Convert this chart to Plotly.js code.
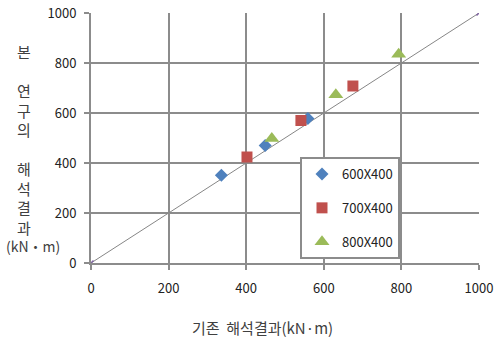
<!DOCTYPE html>
<html>
<head>
<meta charset="utf-8">
<script src="https://cdn.plot.ly/plotly-3.0.1.min.js"></script>
<style>
html,body{margin:0;padding:0;background:#fff;}
#chart{width:495px;height:338px;}
</style>
</head>
<body>
<div id="chart"></div>
<script>
// ---- data ----
const seriesNames = ["600X400", "700X400", "800X400"];
const x600 = [336, 449, 559];
const y600 = [351, 470, 578];
const x700 = [402, 541, 675];
const y700 = [424, 570, 708];
const x800 = [466, 631, 793];
const y800 = [498, 673, 835];
const refX = [0, 1000];
const refY = [0, 1000];
const tickVals = [0, 200, 400, 600, 800, 1000];
const tickText = ["0", "200", "400", "600", "800", "1000"];
const xTitle = "기존  해석결과(kN·m)";
const yTitleLines = ["본", " ", "연", "구", "의", " ", "해", "석", "결", "과"];
const yTitleUnit = "(kN・m)";

// ---- layout helpers ----
const L = 91, R = 479, T = 13, B = 263, W = 495, H = 338;
const px = v => (v - L) / (R - L);
const py = v => (B - v) / (B - T);

const gridCol = "#8c8c8c";
const font = "'Noto Sans CJK KR', 'Noto Sans', sans-serif";

const traces = [
  {x: refX, y: refY, mode: "lines+markers", showlegend: false, hoverinfo: "skip",
   line: {color: "#868686", width: 1},
   marker: {symbol: "x-thin", size: 5, color: "#8064a2", line: {color: "#8064a2", width: 1.5}}},
  {x: x600, y: y600, name: seriesNames[0], mode: "markers", legendgroup: "a",
   marker: {symbol: "diamond", size: 10, color: "#4f81bd"}},
  {x: x700, y: y700, name: seriesNames[1], mode: "markers", legendgroup: "b",
   marker: {symbol: "square", size: 11, color: "#c0504d"}},
  {x: x800, y: y800, name: seriesNames[2], mode: "markers", legendgroup: "c",
   marker: {symbol: "triangle-up", size: 13, color: "#9bbb59"}}
];

const annotations = [
  {text: yTitleLines.join("<br>"), xref: "paper", yref: "paper",
   x: px(24), y: py(39), xanchor: "center", yanchor: "top", showarrow: false,
   font: {family: font, size: 15, color: "#404040"}},
  {text: yTitleUnit, xref: "paper", yref: "paper",
   x: px(33), y: py(246), xanchor: "center", yanchor: "middle", showarrow: false,
   font: {family: font, size: 14, color: "#404040"}},
  {text: xTitle, xref: "paper", yref: "paper", x: px(262), y: py(327),
   xanchor: "center", yanchor: "middle", showarrow: false,
   font: {family: font, size: 15, color: "#404040"}}
];

const axisCommon = {
  range: [0, 1000], tickmode: "array", tickvals: tickVals, ticktext: tickText,
  showgrid: true, gridcolor: gridCol, gridwidth: 2,
  showline: true, linecolor: gridCol, linewidth: 2, mirror: false,
  ticks: "outside", ticklen: 5, tickwidth: 2, tickcolor: gridCol,
  zeroline: false, fixedrange: true,
  tickfont: {family: font, size: 13, color: "#222"}
};

const layout = {
  width: W, height: H,
  margin: {l: L, r: W - R, t: T, b: H - B, pad: 0},
  paper_bgcolor: "#fff", plot_bgcolor: "#fff",
  xaxis: Object.assign({}, axisCommon, {ticklabelstandoff: 7}),
  yaxis: Object.assign({}, axisCommon, {ticklabelstandoff: 5}),
  showlegend: true,
  legend: {
    x: px(300), y: py(157), xanchor: "left", yanchor: "top",
    bgcolor: "#fff", bordercolor: gridCol, borderwidth: 2,
    tracegroupgap: 14, itemwidth: 30,
    font: {family: font, size: 13, color: "#222"}
  },
  annotations: annotations
};

Plotly.newPlot("chart", traces, layout, {staticPlot: true, displayModeBar: false});
</script>
</body>
</html>
